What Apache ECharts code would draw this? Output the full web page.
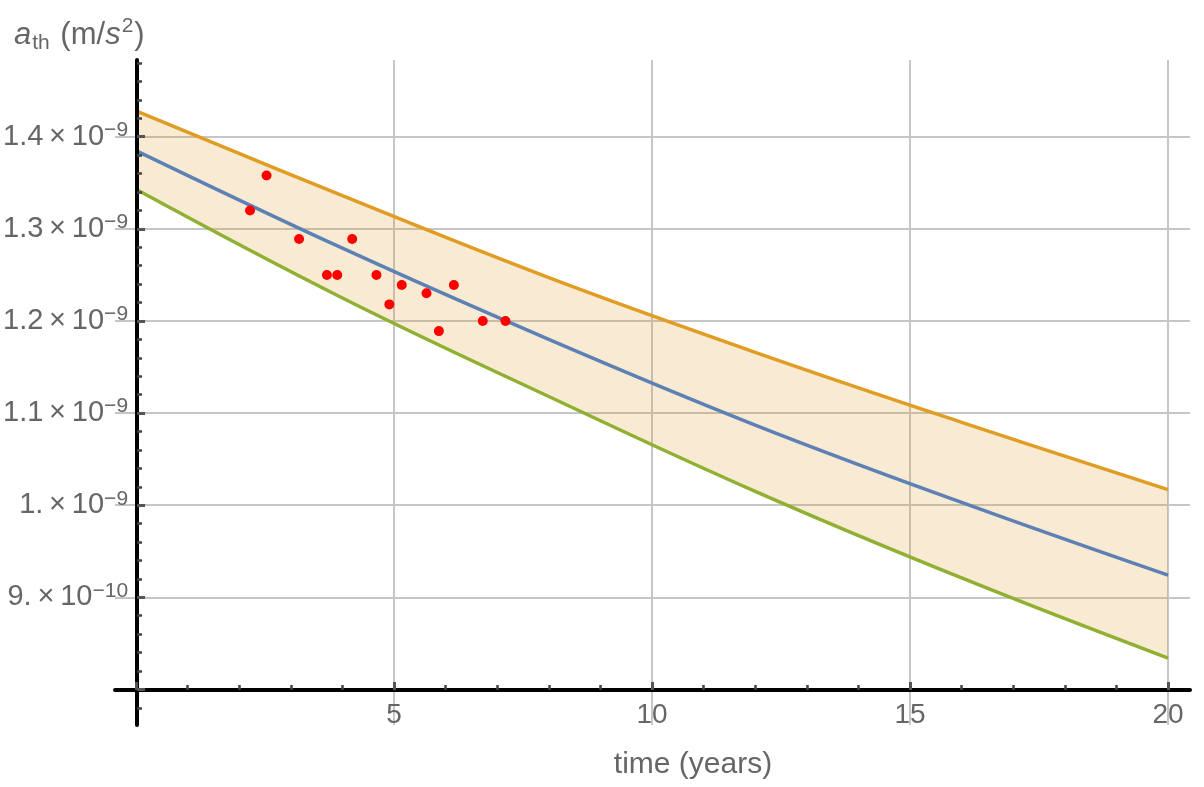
<!DOCTYPE html>
<html><head><meta charset="utf-8">
<script src="https://cdn.jsdelivr.net/npm/echarts@6/dist/echarts.min.js"></script>
<style>html,body{margin:0;padding:0;background:#fff}#c{width:1204px;height:787px}</style>
</head><body><div id="c"></div>
<script>
// values in units of 1e-9 m/s^2
const years        = [0, 4, 8, 12, 16, 20];
const upperBound   = [1.428, 1.336, 1.247, 1.166, 1.090, 1.017];
const centralModel = [1.385, 1.279, 1.180, 1.087, 1.003, 0.924];
const lowerBound   = [1.343, 1.225, 1.118, 1.015, 0.921, 0.834];

const obsTimes = [2.21, 2.53, 3.16, 3.70, 3.90, 4.19, 4.66, 4.91, 5.15, 5.63, 5.87, 6.16, 6.72, 7.16];
const obsAccel = [1.320, 1.358, 1.289, 1.250, 1.250, 1.289, 1.250, 1.218, 1.239, 1.230, 1.189, 1.239, 1.200, 1.200];

const xMajorTicks = [0, 5, 10, 15, 20];
const xLabelValues = [5, 10, 15, 20];
const xMinorTicks = [1, 2, 3, 4, 6, 7, 8, 9, 11, 12, 13, 14, 16, 17, 18, 19];
const yMajorTicks = [0.8, 0.9, 1.0, 1.1, 1.2, 1.3, 1.4];
const yLabelValues = [0.9, 1.0, 1.1, 1.2, 1.3, 1.4];
const yMantissa = ['9.', '1.', '1.1', '1.2', '1.3', '1.4'];
const yExponent = ['\u221210', '\u22129', '\u22129', '\u22129', '\u22129', '\u22129'];
const yMinorTicks = [0.78, 0.82, 0.84, 0.86, 0.88, 0.92, 0.94, 0.96, 0.98, 1.02, 1.04, 1.06, 1.08,
  1.12, 1.14, 1.16, 1.18, 1.22, 1.24, 1.26, 1.28, 1.32, 1.34, 1.36, 1.38, 1.42, 1.44, 1.46, 1.48];

const X_MIN = -0.407, X_MAX = 20.426, Y_MIN = 0.7614, Y_MAX = 1.4833;
const FONT = 'Liberation Sans, Arial, sans-serif';
const LABEL_COLOR = '#666666';

const pairs = arr => years.map((t, i) => [t, arr[i]]);

const chart = echarts.init(document.getElementById('c'), null, {renderer: 'canvas'});

const hiddenX = g => ({gridIndex: g, type: 'value', min: X_MIN, max: X_MAX, show: false});
const hiddenY = g => ({gridIndex: g, type: 'value', min: Y_MIN, max: Y_MAX, show: false});

chart.setOption({
  animation: false,
  backgroundColor: '#ffffff',
  grid: [
    {left: 115, right: 14, top: 60, bottom: 62},
    {left: 115, right: 14, top: 60, bottom: 97},
    {left: 136, right: 14, top: 60, bottom: 62}
  ],
  xAxis: [
    hiddenX(0),
    {
      gridIndex: 1, type: 'value', position: 'bottom', min: X_MIN, max: X_MAX, z: 10,
      axisLine: {show: true, onZero: false, lineStyle: {color: '#000', width: 4}},
      axisTick: {show: true, inside: true, length: 8, customValues: xMajorTicks,
        lineStyle: {color: '#555', width: 3}},
      axisLabel: {show: true, customValues: xLabelValues, color: LABEL_COLOR, fontSize: 28,
        fontFamily: FONT, margin: 11},
      splitLine: {show: false}
    },
    {
      gridIndex: 1, type: 'value', position: 'bottom', min: X_MIN, max: X_MAX, z: 10,
      axisLine: {show: false, onZero: false},
      axisTick: {show: true, inside: true, length: 5, customValues: xMinorTicks,
        lineStyle: {color: '#444', width: 2.5}},
      axisLabel: {show: false},
      splitLine: {show: false}
    },
    hiddenX(2)
  ],
  yAxis: [
    hiddenY(0),
    hiddenY(1),
    {
      gridIndex: 2, type: 'value', position: 'left', min: Y_MIN, max: Y_MAX, z: 10,
      axisLine: {show: true, onZero: false, lineStyle: {color: '#000', width: 4}},
      axisTick: {show: true, inside: true, length: 8, customValues: yMajorTicks,
        lineStyle: {color: '#555', width: 3}},
      axisLabel: {
        show: true, customValues: yLabelValues, margin: 9,
        formatter: v => {
          const i = yLabelValues.findIndex(u => Math.abs(u - v) < 1e-6);
          if (i < 0) return '';
          return '{m|' + yMantissa[i] + '\u2009\u00d7\u200910}{e|' + yExponent[i] + '}';
        },
        rich: {
          m: {fontSize: 29, color: LABEL_COLOR, fontFamily: FONT, lineHeight: 34},
          e: {fontSize: 21, color: LABEL_COLOR, fontFamily: FONT, lineHeight: 21, verticalAlign: 'top'}
        }
      },
      splitLine: {show: false}
    },
    {
      gridIndex: 2, type: 'value', position: 'left', min: Y_MIN, max: Y_MAX, z: 10,
      axisLine: {show: false, onZero: false},
      axisTick: {show: true, inside: true, length: 5, customValues: yMinorTicks,
        lineStyle: {color: '#444', width: 2.5}},
      axisLabel: {show: false},
      splitLine: {show: false}
    }
  ],
  graphic: [
    {
      type: 'text', left: 14, top: 16, z: 20,
      style: {
        text: '{ai|a}{sub|th}{n| (m/}{si|s}{sup|2}{n|)}',
        rich: {
          ai: {fontSize: 31, fontStyle: 'italic', fontFamily: FONT, fill: LABEL_COLOR, lineHeight: 38},
          si: {fontSize: 31, fontStyle: 'italic', fontFamily: FONT, fill: LABEL_COLOR, lineHeight: 38},
          n: {fontSize: 31, fontFamily: FONT, fill: LABEL_COLOR, lineHeight: 38},
          sub: {fontSize: 21, fontFamily: FONT, fill: LABEL_COLOR, lineHeight: 21, verticalAlign: 'bottom', padding: [0, 2, 0, 1]},
          sup: {fontSize: 21, fontFamily: FONT, fill: LABEL_COLOR, lineHeight: 21, verticalAlign: 'top', padding: [0, 1, 0, 1]}
        }
      }
    },
    {
      type: 'text', x: 693, y: 765, z: 20,
      style: {text: 'time (years)', fontSize: 30, fontFamily: FONT, fill: LABEL_COLOR,
        align: 'center', verticalAlign: 'middle'}
    }
  ],
  series: [
    {
      type: 'custom', coordinateSystem: 'cartesian2d', xAxisIndex: 0, yAxisIndex: 0, z: 2,
      silent: true, data: [[years[0], upperBound[0]]],
      renderItem: (params, api) => {
        const top = years.map((t, i) => api.coord([t, upperBound[i]]));
        const bottom = years.map((t, i) => api.coord([t, lowerBound[i]])).reverse();
        return {type: 'polygon', shape: {points: top.concat(bottom)},
          style: {fill: 'rgba(225,156,36,0.2)'}};
      }
    },
    {
      name: 'upper', type: 'line', xAxisIndex: 0, yAxisIndex: 0, z: 3, smooth: 0.4,
      data: pairs(upperBound), symbol: 'none', lineStyle: {color: '#E19C24', width: 3.5}
    },
    {
      name: 'central', type: 'line', xAxisIndex: 0, yAxisIndex: 0, z: 3, smooth: 0.4,
      data: pairs(centralModel), symbol: 'none', lineStyle: {color: '#5E81B5', width: 3.5}
    },
    {
      name: 'lower', type: 'line', xAxisIndex: 0, yAxisIndex: 0, z: 3, smooth: 0.4,
      data: pairs(lowerBound), symbol: 'none', lineStyle: {color: '#8FB032', width: 3.5},
      markLine: {
        z: 1, silent: true, symbol: ['none', 'none'], label: {show: false},
        lineStyle: {color: '#c6c6c6', width: 2, type: 'solid'},
        data: [
          {xAxis: 5}, {xAxis: 10}, {xAxis: 15}, {xAxis: 20},
          {yAxis: 0.9}, {yAxis: 1.0}, {yAxis: 1.1}, {yAxis: 1.2}, {yAxis: 1.3}, {yAxis: 1.4}
        ]
      }
    },
    {
      name: 'observed', type: 'scatter', xAxisIndex: 0, yAxisIndex: 0, z: 4,
      data: obsTimes.map((t, i) => [t, obsAccel[i]]),
      symbol: 'circle', symbolSize: 10, itemStyle: {color: '#FF0000', opacity: 1}
    }
  ]
});
</script>
</body></html>
